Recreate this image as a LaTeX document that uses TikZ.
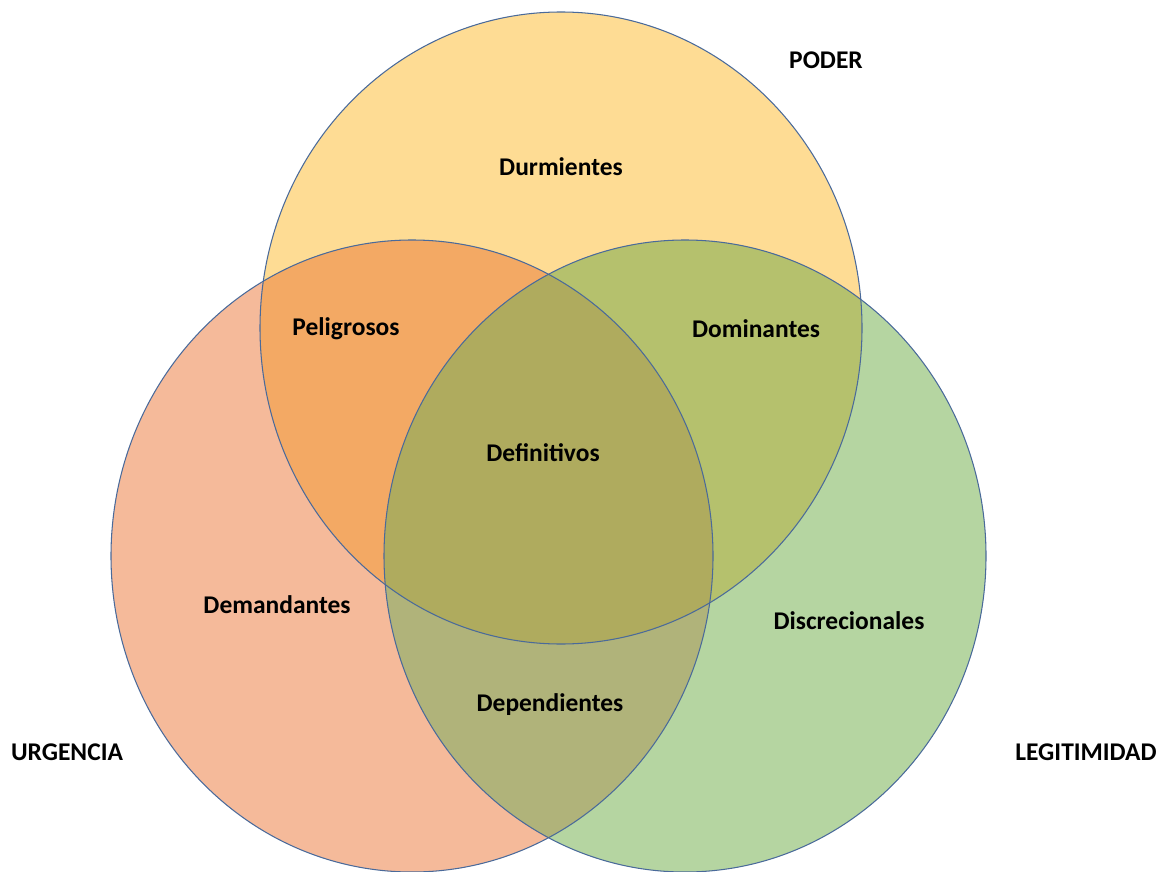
\documentclass[tikz,border=0pt]{standalone}
\usepackage{fontspec}
\setmainfont{Carlito}
\definecolor{poderc}{HTML}{FEDC94}
\definecolor{urgc}{HTML}{F5BA9A}
\definecolor{legc}{HTML}{B5D5A1}
\definecolor{pu}{HTML}{F3A964}
\definecolor{pl}{HTML}{B5C16D}
\definecolor{ul}{HTML}{B0B37A}
\definecolor{pul}{HTML}{AFAB5E}
\definecolor{edge}{HTML}{4A6A9A}
\tikzset{
  lbl/.style={font=\bfseries\fontsize{14.5}{16}\selectfont, text=black, inner sep=0pt},
  rim/.style={draw=edge, line width=0.6pt}
}
\newcommand{\poderset}{(561,328) ellipse [x radius=301, y radius=316]}
\newcommand{\urgset}{(412,556) ellipse [x radius=301, y radius=316]}
\newcommand{\legset}{(685,556) ellipse [x radius=301, y radius=316]}
\begin{document}
\begin{tikzpicture}[x=0.02cm, y=-0.02cm]
  \useasboundingbox (0,0) rectangle (1168,871);
  \begin{scope}
    \clip (0,0) rectangle (1168,871);
    % single sets
    \fill[poderc] \poderset;
    \fill[urgc] \urgset;
    \fill[legc] \legset;
    % pairwise overlaps
    \begin{scope}\clip \poderset; \fill[pu] \urgset; \end{scope}
    \begin{scope}\clip \poderset; \fill[pl] \legset; \end{scope}
    \begin{scope}\clip \urgset; \fill[ul] \legset; \end{scope}
    % common core
    \begin{scope}\clip \poderset; \clip \urgset; \fill[pul] \legset; \end{scope}
    % outlines
    \draw[rim] \poderset;
    \draw[rim] \urgset;
    \draw[rim] \legset;
  \end{scope}
  \node[lbl] (poder) at (826,60) {PODER};
  \node[lbl] (urgencia) at (67,752) {URGENCIA};
  \node[lbl] (legitimidad) at (1086,752) {LEGITIMIDAD};
  \node[lbl] (durm) at (561,167) {Durmientes};
  \node[lbl] (pelig) at (346,329) {Peligrosos};
  \node[lbl] (domin) at (756,329) {Dominantes};
  \node[lbl] (defin) at (543,453) {Definitivos};
  \node[lbl] (deman) at (277,605) {Demandantes};
  \node[lbl] (discr) at (849,621) {Discrecionales};
  \node[lbl] (depen) at (550,705) {Dependientes};
\end{tikzpicture}
\end{document}
